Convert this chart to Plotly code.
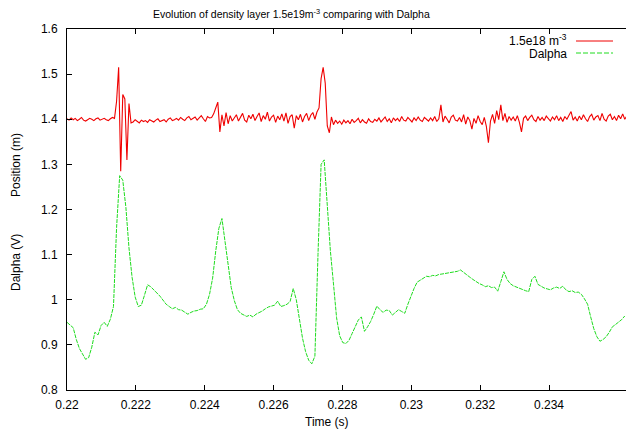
import plotly.graph_objects as go

# ---------------- data ----------------
T_START = 0.22
RED_STEP = 0.00006     # sampling step of the density-layer position trace (s)
GREEN_STEP = 0.00009   # sampling step of the Dalpha trace (s)

position_m = [
    1.401, 1.398, 1.403, 1.399, 1.402, 1.397, 1.400, 1.404, 1.398, 1.396,
    1.399, 1.402, 1.400, 1.397, 1.401, 1.403, 1.398, 1.400, 1.402, 1.399,
    1.397, 1.401, 1.404, 1.402,
    1.440, 1.515, 1.285, 1.455, 1.445, 1.310, 1.435, 1.392,
    1.394, 1.399, 1.396, 1.392, 1.398, 1.395, 1.397, 1.393, 1.399, 1.396,
    1.394, 1.398, 1.401, 1.395, 1.397, 1.399, 1.394, 1.400, 1.403, 1.397,
    1.399, 1.402, 1.398, 1.404, 1.400, 1.397, 1.403, 1.406, 1.399, 1.402,
    1.405, 1.398, 1.404, 1.408, 1.401, 1.395, 1.406, 1.403,
    1.404, 1.412, 1.425, 1.438, 1.372, 1.410, 1.385, 1.415, 1.390, 1.408, 1.396,
    1.402, 1.410, 1.396, 1.405, 1.413, 1.398, 1.394, 1.409, 1.401, 1.411,
    1.397, 1.406, 1.414, 1.395, 1.408, 1.400, 1.416, 1.396, 1.405, 1.409,
    1.393, 1.407, 1.399, 1.412, 1.396, 1.414, 1.391, 1.406, 1.410, 1.380,
    1.408, 1.399, 1.411, 1.394, 1.406, 1.413, 1.397, 1.409, 1.415, 1.400, 1.416,
    1.425, 1.490, 1.515, 1.480, 1.385, 1.370, 1.405, 1.388,
    1.398, 1.391, 1.396, 1.389, 1.398, 1.392, 1.397, 1.390, 1.400, 1.393,
    1.397, 1.402, 1.392, 1.399, 1.394, 1.391, 1.401, 1.395, 1.393, 1.400,
    1.396, 1.403, 1.394, 1.399, 1.405, 1.395, 1.401, 1.392, 1.403, 1.397,
    1.402, 1.395, 1.406, 1.398, 1.396, 1.404, 1.399, 1.394, 1.403, 1.397,
    1.405, 1.398, 1.395, 1.404, 1.400, 1.396,
    1.403, 1.397, 1.406, 1.395, 1.401, 1.432, 1.394, 1.407, 1.400, 1.392,
    1.405, 1.409, 1.398, 1.396, 1.404,
    1.394, 1.410, 1.389, 1.405, 1.397, 1.378, 1.402, 1.391, 1.408, 1.395,
    1.388, 1.404, 1.384, 1.348, 1.396, 1.411, 1.391, 1.419, 1.399, 1.432,
    1.397, 1.413, 1.393, 1.406, 1.398,
    1.405, 1.396, 1.408, 1.393, 1.372, 1.402, 1.407, 1.397, 1.404, 1.409,
    1.399, 1.395, 1.406, 1.398, 1.404, 1.397, 1.407, 1.400, 1.396, 1.405,
    1.399, 1.408, 1.397, 1.404, 1.395, 1.406, 1.400, 1.409, 1.417, 1.398,
    1.405, 1.396, 1.407, 1.399, 1.410, 1.401, 1.395, 1.406, 1.411, 1.398,
    1.405, 1.408, 1.397, 1.413, 1.400, 1.396, 1.407, 1.411, 1.399, 1.406,
    1.397, 1.409, 1.401, 1.412, 1.400, 1.407,
]

dalpha_v = [
    0.950, 0.945, 0.938, 0.912, 0.892, 0.880, 0.868, 0.872, 0.895, 0.928,
    0.922, 0.943, 0.950, 0.941, 0.957, 0.985, 1.160, 1.275, 1.265, 1.205,
    1.115, 1.050, 1.006, 0.985, 0.988, 1.010, 1.033, 1.029, 1.023, 1.015,
    1.008, 0.999, 0.990, 0.985, 0.980, 0.983, 0.978, 0.977, 0.972, 0.968,
    0.972, 0.975, 0.976, 0.979, 0.980, 0.990, 1.012, 1.048, 1.108, 1.158,
    1.180, 1.125, 1.072, 1.027, 0.998, 0.978, 0.970, 0.966, 0.963, 0.966,
    0.962, 0.968, 0.971, 0.975, 0.980, 0.984, 0.986, 0.988, 0.997, 0.985,
    0.987, 0.990, 0.996, 1.025, 1.000, 0.955, 0.915, 0.885, 0.866, 0.858,
    0.875, 1.100, 1.300, 1.310, 1.210, 1.108, 1.035, 0.960, 0.920, 0.905,
    0.903, 0.910, 0.925, 0.940, 0.955, 0.962, 0.930, 0.940, 0.952, 0.968,
    0.986, 0.978, 0.972, 0.977, 0.976, 0.966, 0.972, 0.978, 0.974, 0.970,
    0.990, 1.008, 1.025, 1.039, 1.044, 1.048, 1.052, 1.051, 1.054, 1.053,
    1.056, 1.057, 1.058, 1.060, 1.061, 1.062, 1.063, 1.066, 1.060, 1.056,
    1.050, 1.045, 1.040, 1.036, 1.033, 1.029, 1.031, 1.027, 1.028, 1.019,
    1.040, 1.062, 1.045, 1.036, 1.031, 1.028, 1.026, 1.022, 1.020, 1.018,
    1.045, 1.052, 1.034, 1.030, 1.026, 1.024, 1.022, 1.026, 1.028, 1.025,
    1.030, 1.022, 1.018, 1.020, 1.016, 1.017, 1.012, 1.002, 0.990, 0.962,
    0.936, 0.918, 0.908, 0.912, 0.918, 0.928, 0.940, 0.945, 0.950, 0.956,
    0.964,
]

x_ticks = [0.22, 0.222, 0.224, 0.226, 0.228, 0.23, 0.232, 0.234]
x_tick_labels = ["0.22", "0.222", "0.224", "0.226", "0.228", "0.23", "0.232", "0.234"]
y_ticks = [0.8, 0.9, 1.0, 1.1, 1.2, 1.3, 1.4, 1.5, 1.6]
y_tick_labels = ["0.8", "0.9", "1", "1.1", "1.2", "1.3", "1.4", "1.5", "1.6"]

t_red = [T_START + i * RED_STEP for i in range(len(position_m))]
t_green = [T_START + i * GREEN_STEP for i in range(len(dalpha_v))]

RED = "#f00000"
GREEN = "#1fdc1f"
FONT = "Liberation Sans, Arial, Helvetica, sans-serif"

# ---------------- figure ----------------
W, H = 626, 435
L, R, T, B = 67, 0, 29, 45
pw, ph = W - L - R, H - T - B


def px(xp):
    return (xp - L) / pw


def py(yp):
    return (H - B - yp) / ph


fig = go.Figure()
fig.add_trace(go.Scatter(x=t_green, y=dalpha_v, mode="lines",
                         line=dict(color=GREEN, width=1, dash="4px,1px"),
                         name="Dalpha", showlegend=False))
fig.add_trace(go.Scatter(x=t_red, y=position_m, mode="lines",
                         line=dict(color=RED, width=1.1),
                         name="1.5e18 m-3", showlegend=False))

fig.update_layout(
    width=W, height=H,
    margin=dict(l=L, r=R, t=T, b=B, pad=0),
    paper_bgcolor="white", plot_bgcolor="white",
    font=dict(family=FONT, size=12, color="black"),
    xaxis=dict(range=[0.22, 0.22 + pw / 68.86 * 0.002], tickvals=x_ticks,
               ticktext=x_tick_labels, ticks="inside", ticklen=5,
               tickcolor="black", showline=True, linecolor="black",
               linewidth=1, mirror="ticks", showgrid=False, zeroline=False,
               ticklabelstandoff=4, automargin=False),
    yaxis=dict(range=[0.8, 1.6], tickvals=y_ticks, ticktext=y_tick_labels,
               ticks="inside", ticklen=5, tickcolor="black", showline=True,
               linecolor="black", linewidth=1, mirror=False, showgrid=False,
               zeroline=False, ticklabelstandoff=6, automargin=False),
)

ann = [
    dict(text="Evolution of density layer 1.5e19m<sup>-3</sup> comparing with Dalpha",
         x=px(291), y=py(14), xanchor="center", yanchor="middle", font=dict(size=10.5)),
    dict(text="Time (s)", x=px(327), y=py(422), xanchor="center", yanchor="middle",
         font=dict(size=12)),
    dict(text="Position (m)", x=px(16), y=py(165), xanchor="center", yanchor="middle",
         textangle=-90, font=dict(size=12)),
    dict(text="Dalpha (V)", x=px(16), y=py(263), xanchor="center", yanchor="middle",
         textangle=-90, font=dict(size=12)),
    dict(text="1.5e18 m<sup>-3</sup>", x=px(569), y=py(40), xanchor="right",
         yanchor="middle", font=dict(size=12)),
    dict(text="Dalpha", x=px(569), y=py(54), xanchor="right", yanchor="middle",
         font=dict(size=12)),
]
for a in ann:
    a.update(xref="paper", yref="paper", showarrow=False)
fig.update_layout(annotations=ann)

fig.add_shape(type="line", xref="paper", yref="paper", x0=px(576), x1=px(613),
              y0=py(41), y1=py(41), line=dict(color=RED, width=1))
fig.add_shape(type="line", xref="paper", yref="paper", x0=px(576), x1=px(613),
              y0=py(53), y1=py(53), line=dict(color=GREEN, width=1, dash="5px,2px"))

fig.write_html("out.html", config={"displayModeBar": False},
               post_script="document.body.style.margin='0px';document.body.style.padding='0px';")
